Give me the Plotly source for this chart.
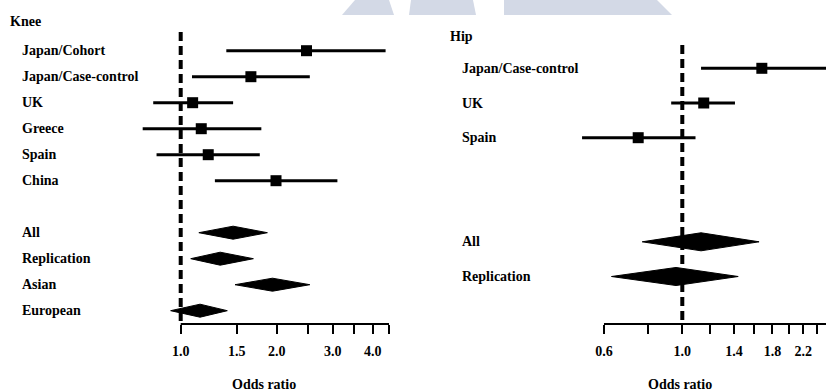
import plotly.graph_objects as go

# ---------------- data ----------------
knee_labels = ["Japan/Cohort", "Japan/Case-control", "UK", "Greece", "Spain", "China"]
knee_or = [2.48, 1.66, 1.09, 1.16, 1.22, 1.99]
knee_lo = [1.39, 1.085, 0.82, 0.76, 0.84, 1.28]
knee_hi = [4.39, 2.54, 1.46, 1.79, 1.77, 3.10]

knee_pool_labels = ["All", "Replication", "Asian", "European"]
knee_pool_or = [1.46, 1.33, 1.94, 1.15]
knee_pool_lo = [1.14, 1.075, 1.48, 0.93]
knee_pool_hi = [1.87, 1.69, 2.54, 1.40]

hip_labels = ["Japan/Case-control", "UK", "Spain"]
hip_or = [1.68, 1.15, 0.75]
hip_lo = [1.13, 0.93, 0.52]
hip_hi = [2.75, 1.41, 1.09]

hip_pool_labels = ["All", "Replication"]
hip_pool_or = [1.13, 0.96]
hip_pool_lo = [0.77, 0.63]
hip_pool_hi = [1.65, 1.44]

knee_ticks = [1.0, 1.5, 2.0, 2.5, 3.0, 3.5, 4.0, 4.5]
knee_ticktext = ["1.0", "1.5", "2.0", "", "3.0", "", "4.0", ""]
hip_ticks = [0.6, 0.8, 1.0, 1.2, 1.4, 1.6, 1.8, 2.0, 2.2, 2.4]
hip_ticktext = ["0.6", "", "1.0", "", "1.4", "", "1.8", "", "2.2", ""]

# ---------------- layout constants ----------------
W, H = 826, 392
FONT = "Liberation Serif, Times New Roman, serif"
BLACK = "#000000"

# study rows, a blank row, then pooled rows
knee_rows = list(range(len(knee_labels)))
knee_pool_rows = [len(knee_labels) + 1 + i for i in range(len(knee_pool_labels))]
hip_rows = list(range(len(hip_labels)))
hip_pool_rows = [len(hip_labels) + 2 + i for i in range(len(hip_pool_labels))]

fig = go.Figure()


def add_panel(xa, ya, rows, ors, los, his, prow, por, plo, phi, half_h, ref_top, ref_bot):
    # confidence intervals with square point estimates
    for r, o, lo, hi in zip(rows, ors, los, his):
        fig.add_trace(go.Scatter(x=[lo, hi], y=[r, r], mode="lines",
                                 line=dict(color=BLACK, width=3),
                                 xaxis=xa, yaxis=ya, hoverinfo="skip"))
        fig.add_trace(go.Scatter(x=[o], y=[r], mode="markers",
                                 marker=dict(symbol="square", size=11, color=BLACK),
                                 xaxis=xa, yaxis=ya, hoverinfo="skip"))
    # pooled estimates as diamonds
    for r, o, lo, hi in zip(prow, por, plo, phi):
        fig.add_trace(go.Scatter(x=[lo, o, hi, o, lo], y=[r, r - half_h, r, r + half_h, r],
                                 mode="lines", fill="toself", fillcolor=BLACK,
                                 line=dict(color=BLACK, width=1),
                                 xaxis=xa, yaxis=ya, hoverinfo="skip"))
    # reference line at OR = 1
    fig.add_trace(go.Scatter(x=[1.0, 1.0], y=[ref_top, ref_bot], mode="lines",
                             line=dict(color=BLACK, width=4, dash="9px,5px"),
                             xaxis=xa, yaxis=ya, hoverinfo="skip"))


# vertical geometry (rows are mapped so that the axis sits at the bottom edge)
y_bottom_px = 324
knee_row0, knee_step = 50.7, 26.0
hip_row0, hip_step = 68.3, 34.7
knee_yrange = [(y_bottom_px - knee_row0) / knee_step, -knee_row0 / knee_step]
hip_yrange = [(y_bottom_px - hip_row0) / hip_step, -hip_row0 / hip_step]

add_panel("x", "y", knee_rows, knee_or, knee_lo, knee_hi,
          knee_pool_rows, knee_pool_or, knee_pool_lo, knee_pool_hi,
          0.25, -0.72, knee_yrange[0])
add_panel("x2", "y2", hip_rows, hip_or, hip_lo, hip_hi,
          hip_pool_rows, hip_pool_or, hip_pool_lo, hip_pool_hi,
          0.26, -0.67, hip_yrange[0])

ydom = [1 - y_bottom_px / H, 1.0]
tickfont = dict(family=FONT, size=14, color=BLACK, weight="bold")
common_x = dict(type="log", showgrid=False, zeroline=False, showline=False,
                ticks="outside", ticklen=9, tickwidth=2, tickcolor=BLACK,
                tickfont=tickfont, ticklabelstandoff=5, fixedrange=True)
common_y = dict(showgrid=False, zeroline=False, showline=False,
                showticklabels=False, ticks="", fixedrange=True)

fig.update_layout(
    width=W, height=H, autosize=False,
    margin=dict(l=0, r=0, t=0, b=0),
    paper_bgcolor="white", plot_bgcolor="white",
    showlegend=False,
    xaxis=dict(common_x, domain=[120 / W, 400 / W], range=[-0.19034, 0.68766],
               tickvals=knee_ticks, ticktext=knee_ticktext, anchor="y"),
    yaxis=dict(common_y, domain=ydom, range=knee_yrange, anchor="x"),
    xaxis2=dict(common_x, domain=[560 / W, 1.0], range=[-0.34648, 0.40710],
                tickvals=hip_ticks, ticktext=hip_ticktext, anchor="y2"),
    yaxis2=dict(common_y, domain=ydom, range=hip_yrange, anchor="x2"),
)

# axis baselines spanning the tick range
axis_y = 1 - y_bottom_px / H
fig.add_shape(type="line", xref="x", yref="paper", x0=knee_ticks[0], x1=knee_ticks[-1],
              y0=axis_y, y1=axis_y, line=dict(color=BLACK, width=2))
fig.add_shape(type="line", xref="x2", yref="paper", x0=hip_ticks[0], x1=3.0,
              y0=axis_y, y1=axis_y, line=dict(color=BLACK, width=2))

# faint banner strip along the top edge
band = "#d3d9e6"
top = 15 / H
for path in [
    f"M {342/W},{1-top} L {355/W},1 L {389/W},1 L {394/W},{1-top} Z",
    f"M {409/W},{1-top} L {411/W},1 L {473/W},1 L {476/W},{1-top} Z",
    f"M {504/W},{1-top} L {504/W},1 L {657/W},1 L {672/W},{1-top} Z",
]:
    fig.add_shape(type="path", xref="paper", yref="paper", path=path,
                  fillcolor=band, line=dict(width=0), layer="below")

labfont = dict(family=FONT, size=14, color=BLACK, weight="bold")


def label(text, xpx, y, yref):
    fig.add_annotation(text=text, xref="paper", x=xpx / W, xanchor="left",
                       yref=yref, y=y, yanchor="middle", showarrow=False,
                       font=labfont)


def paper_text(text, xpx, ypx, anchor="left"):
    fig.add_annotation(text=text, xref="paper", x=xpx / W, xanchor=anchor,
                       yref="paper", y=1 - ypx / H, yanchor="middle",
                       showarrow=False, font=labfont)


for r, t in zip(knee_rows + knee_pool_rows, knee_labels + knee_pool_labels):
    label(t, 20, r, "y")
for r, t in zip(hip_rows + hip_pool_rows, hip_labels + hip_pool_labels):
    label(t, 459.5, r, "y2")

paper_text("Knee", 8, 21)
paper_text("Hip", 448, 36)
paper_text("Odds ratio", 264, 384, "center")
paper_text("Odds ratio", 680, 384, "center")

fig.write_html("out.html")
